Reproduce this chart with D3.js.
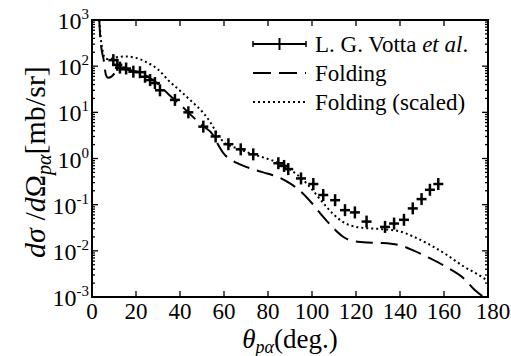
<!DOCTYPE html>
<html>
<head>
<meta charset="utf-8">
<script src="https://cdn.jsdelivr.net/npm/d3@7"></script>
<style>
  body { margin: 0; background: #fff; }
  text { font-family: "Liberation Serif", "DejaVu Serif", serif; fill: #000; }
</style>
</head>
<body>
<div id="chart"></div>
<script>
// measured points (angle in deg, cross section in mb/sr)
var dataAngle = [9.7, 11.5, 12.7, 15.5, 18.8, 21.8, 24.1, 26.4, 28.6, 30.9, 37.7, 43.8, 50.6, 56.2,
    62, 67.6, 73.3, 84.7, 87.3, 89.2, 95, 100.6, 105.1, 110.5, 115, 119.5, 124.8,
    133.2, 137.3, 141.8, 145.8, 149.8, 153.6, 157.4];
var dataValue = [135, 107, 93, 89, 76, 74, 59, 50, 43, 30, 18.6, 10, 4.9, 3.0,
    2.04, 1.58, 1.23, 0.79, 0.69, 0.59, 0.37, 0.28, 0.162, 0.125, 0.076, 0.068, 0.043,
    0.033, 0.039, 0.047, 0.083, 0.132, 0.21, 0.28];

// folding calculation (log10 of cross section)
var foldAngle = [3.3, 3.8, 4.5, 5.3, 5.8, 6.4, 7.3, 8.3, 9.8, 11, 13, 16, 20, 25, 30, 35, 40, 45, 50, 55,
    57, 60, 63, 67, 70, 75, 80, 85, 90, 95, 100, 105, 110, 114, 118, 125, 132, 140, 146, 154,
    161, 169, 174, 178];
var foldLog = [3.0, 2.6, 2.32, 2.14, 1.96, 1.80, 1.75, 1.76, 1.82, 1.9, 1.93, 1.92, 1.88, 1.78, 1.62,
    1.38, 1.17, 0.94, 0.72, 0.51, 0.33, 0.10, -0.02, -0.12, -0.18, -0.26, -0.33, -0.41, -0.54,
    -0.72, -0.97, -1.26, -1.52, -1.69, -1.78, -1.82, -1.83, -1.88, -1.99, -2.17, -2.35, -2.60,
    -2.85, -3.0];

// folding calculation, scaled (log10 of cross section)
var scaledAngle = [3.3, 4, 5, 6, 8, 10, 15, 20, 25, 30, 35, 40, 45, 50, 54, 57, 60, 63, 66, 72, 80,
    85, 90, 95, 100, 105, 110, 115, 120, 125, 132, 140, 146, 154, 161, 169, 175, 180];
var scaledLog = [3.0, 2.6, 2.3, 2.17, 2.15, 2.18, 2.21, 2.18, 2.08, 1.93, 1.68, 1.47, 1.25, 1.02,
    0.77, 0.53, 0.35, 0.27, 0.22, 0.11, -0.01, -0.10, -0.24, -0.42, -0.67, -0.96, -1.22, -1.40,
    -1.48, -1.51, -1.53, -1.58, -1.69, -1.88, -2.08, -2.34, -2.50, -2.65];

var xTicks = [0, 20, 40, 60, 80, 100, 120, 140, 160, 180];
var yExponents = [3, 2, 1, 0, -1, -2, -3];
var legendLabels = ["L. G. Votta", "Folding", "Folding (scaled)"];

var W = 511, H = 356;
var plotL = 92, plotR = 488, plotT = 20, plotB = 297;

var svg = d3.select("#chart").append("svg")
    .attr("width", W)
    .attr("height", H);

var x = d3.scaleLinear().domain([0, 180]).range([plotL, plotR]);
var y = d3.scaleLog().domain([1e-3, 1e3]).range([plotB, plotT]);

svg.append("clipPath").attr("id", "plotClip")
    .append("rect")
    .attr("x", plotL).attr("y", plotT)
    .attr("width", plotR - plotL).attr("height", plotB - plotT);

// ticks on all four sides, pointing inwards
var ticksG = svg.append("g").attr("stroke", "#000").attr("stroke-width", 1.3);
xTicks.slice(1, -1).forEach(function (t) {
    ticksG.append("line").attr("x1", x(t)).attr("x2", x(t)).attr("y1", plotB).attr("y2", plotB - 6);
    ticksG.append("line").attr("x1", x(t)).attr("x2", x(t)).attr("y1", plotT).attr("y2", plotT + 6);
});
yExponents.forEach(function (e) {
    var v = Math.pow(10, e);
    ticksG.append("line").attr("x1", plotL).attr("x2", plotL + 6).attr("y1", y(v)).attr("y2", y(v));
    ticksG.append("line").attr("x1", plotR).attr("x2", plotR - 6).attr("y1", y(v)).attr("y2", y(v));
    if (e < 3) {
        for (var m = 2; m <= 9; m++) {
            ticksG.append("line").attr("x1", plotL).attr("x2", plotL + 3).attr("y1", y(m * v)).attr("y2", y(m * v));
            ticksG.append("line").attr("x1", plotR).attr("x2", plotR - 3).attr("y1", y(m * v)).attr("y2", y(m * v));
        }
    }
});

// x tick labels
svg.append("g").selectAll("text")
    .data(xTicks)
    .enter().append("text")
    .attr("x", function (d) { return x(d) + (d === 180 ? 5 : 0); })
    .attr("y", 319)
    .attr("text-anchor", "middle")
    .style("font-size", "23px")
    .text(function (d) { return d; });

// y tick labels 10^n
var yl = svg.append("g").selectAll("text")
    .data(yExponents)
    .enter().append("text")
    .attr("x", 89)
    .attr("y", function (d) { return y(Math.pow(10, d)) + 9; })
    .attr("text-anchor", "end")
    .style("font-size", "24px");
yl.append("tspan").text("10");
yl.append("tspan").attr("dy", -10).style("font-size", "15px").text(function (d) { return d; });

// curves
var plot = svg.append("g").attr("clip-path", "url(#plotClip)");
var line = d3.line()
    .x(function (d) { return x(d[0]); })
    .y(function (d) { return y(Math.pow(10, d[1])); })
    .curve(d3.curveMonotoneX);

plot.append("path")
    .datum(d3.zip(foldAngle, foldLog))
    .attr("d", line)
    .attr("fill", "none")
    .attr("stroke", "#000")
    .attr("stroke-width", 2)
    .attr("stroke-dasharray", "17,8");

plot.append("path")
    .datum(d3.zip(scaledAngle, scaledLog))
    .attr("d", line)
    .attr("fill", "none")
    .attr("stroke", "#000")
    .attr("stroke-width", 2)
    .attr("stroke-dasharray", "2,3");

// data crosses
var pts = plot.append("g").selectAll("g")
    .data(d3.zip(dataAngle, dataValue))
    .enter().append("g")
    .attr("transform", function (d) { return "translate(" + x(d[0]) + "," + y(d[1]) + ")"; })
    .attr("stroke", "#000")
    .attr("stroke-width", 2.5);
pts.append("line").attr("x1", -5).attr("x2", 5).attr("y1", 0).attr("y2", 0);
pts.append("line").attr("x1", 0).attr("x2", 0).attr("y1", -6).attr("y2", 6);

// frame
svg.append("rect")
    .attr("x", plotL).attr("y", plotT)
    .attr("width", plotR - plotL).attr("height", plotB - plotT)
    .attr("fill", "none")
    .attr("stroke", "#000")
    .attr("stroke-width", 2);

// legend
var lg = svg.append("g").attr("stroke", "#000");
lg.append("line").attr("x1", 253).attr("x2", 306).attr("y1", 44).attr("y2", 44).attr("stroke-width", 2);
lg.append("line").attr("x1", 253).attr("x2", 253).attr("y1", 41).attr("y2", 47).attr("stroke-width", 1.5);
lg.append("line").attr("x1", 306).attr("x2", 306).attr("y1", 41).attr("y2", 47).attr("stroke-width", 1.5);
lg.append("line").attr("x1", 279.5).attr("x2", 279.5).attr("y1", 38).attr("y2", 50).attr("stroke-width", 2);
lg.append("line").attr("x1", 253).attr("x2", 306).attr("y1", 73).attr("y2", 73)
    .attr("stroke-width", 2).attr("stroke-dasharray", "18,8");
lg.append("line").attr("x1", 253).attr("x2", 306).attr("y1", 102).attr("y2", 102)
    .attr("stroke-width", 2).attr("stroke-dasharray", "2,3");

var t0 = svg.append("text").attr("x", 315).attr("y", 52).style("font-size", "23px");
t0.append("tspan").text(legendLabels[0] + " ");
t0.append("tspan").style("font-style", "italic").text("et al");
t0.append("tspan").text(".");
svg.append("text").attr("x", 315).attr("y", 81).style("font-size", "23px").text(legendLabels[1]);
svg.append("text").attr("x", 315).attr("y", 110).style("font-size", "23px").text(legendLabels[2]);

// axis titles
var xt = svg.append("text")
    .attr("x", 290).attr("y", 348)
    .attr("text-anchor", "middle")
    .style("font-size", "27px");
xt.append("tspan").style("font-style", "italic").text("θ");
xt.append("tspan").attr("dy", 5).style("font-size", "18px").style("font-style", "italic").text("pα");
xt.append("tspan").attr("dy", -5).text("(deg.)");

var yt = svg.append("text")
    .attr("transform", "translate(45,162) rotate(-90)")
    .attr("text-anchor", "middle")
    .style("font-size", "30px");
yt.append("tspan").style("font-style", "italic").text("dσ");
yt.append("tspan").text(" /");
yt.append("tspan").style("font-style", "italic").text("d");
yt.append("tspan").text("Ω");
yt.append("tspan").attr("dy", 6).style("font-size", "20px").style("font-style", "italic").text("pα");
yt.append("tspan").attr("dy", -6).text("[mb/sr]");
</script>
</body>
</html>
